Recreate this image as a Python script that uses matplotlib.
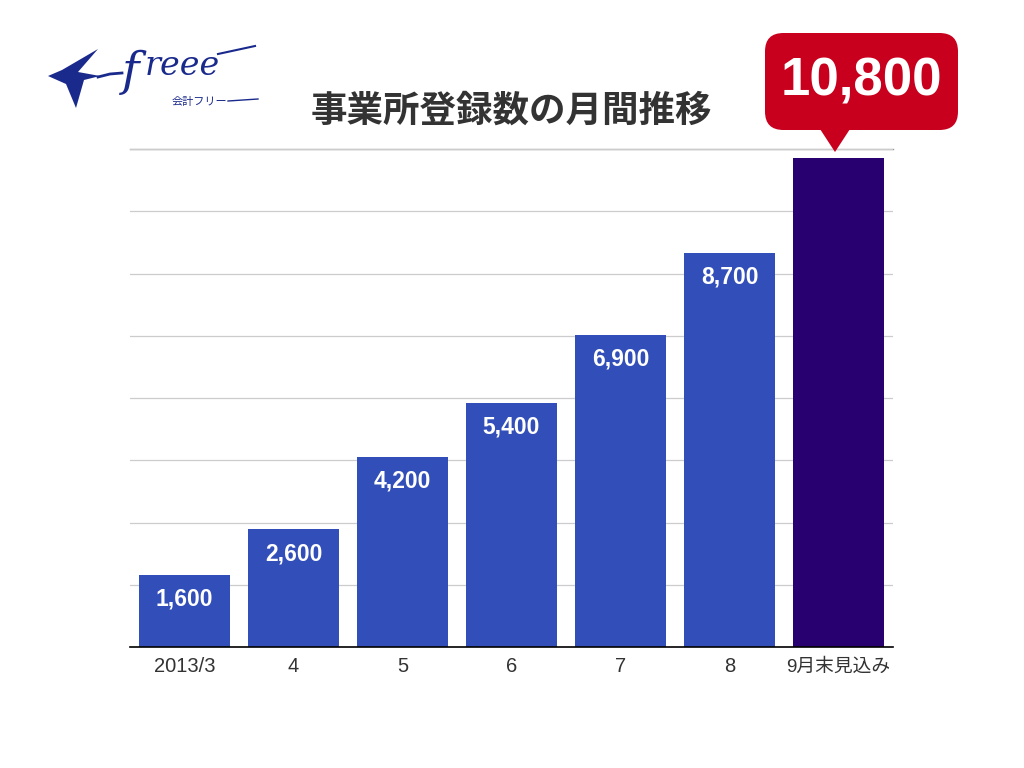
import matplotlib
matplotlib.use("Agg")
import matplotlib.pyplot as plt
from matplotlib.patches import FancyBboxPatch, Polygon

plt.rcParams['font.family'] = ['Liberation Sans', 'Noto Sans CJK JP', 'DejaVu Sans']

categories = ["2013/3", "4", "5", "6", "7", "8", "9月末見込み"]
values = [1600, 2600, 4200, 5400, 6900, 8700, 10800]
labels = ["1,600", "2,600", "4,200", "5,400", "6,900", "8,700", "10,800"]
title = "事業所登録数の月間推移"

bar_color = "#324EB9"
last_color = "#29006F"
red = "#C8001E"

fig = plt.figure(figsize=(10.24, 7.68), dpi=100)
ax = fig.add_axes([130/1024, 1-647/768, 763/1024, (647-149)/768])
x = list(range(len(categories)))
colors = [bar_color]*(len(values)-1) + [last_color]
ax.bar(x, values, width=0.826, color=colors, zorder=3)
ax.set_xlim(-0.5, len(values)-0.5)
ax.set_ylim(0, 11000)
ax.set_yticks([i*1375 for i in range(9)])
ax.set_yticklabels([])
ax.tick_params(axis='y', length=0)
ax.tick_params(axis='x', length=0, pad=18)
ax.set_xticks(x)
ax.set_xticklabels(categories, fontsize=14.5, color="#333333", va="baseline")
ax.get_xticklabels()[-1].set_fontsize(13.5)
for s in ["top", "right", "left"]:
    ax.spines[s].set_visible(False)
ax.spines["bottom"].set_color("black")
ax.spines["bottom"].set_linewidth(1.2)
ax.spines["bottom"].set_zorder(4)
ax.grid(axis='y', color="#CCCCCC", linewidth=0.9, zorder=0)
ax.axhline(11000, color="#999999", linewidth=1.0, zorder=1, clip_on=False)

for xi, v, lab in zip(x[:-1], values[:-1], labels[:-1]):
    ax.annotate(lab, (xi, v), xytext=(0, -17.5), textcoords="offset points",
                ha="center", va="center", color="white", fontsize=16.5, fontweight="bold", zorder=5)

# callout for last bar
px = lambda X: X/1024
py = lambda Y: 1-Y/768
box = FancyBboxPatch((px(765), py(130)), px(958)-px(765), py(33)-py(130),
                     boxstyle="round,pad=0,rounding_size=0.018", transform=fig.transFigure,
                     facecolor=red, edgecolor="none", mutation_aspect=1024/768)
fig.patches.append(box)
tri = Polygon([(px(820), py(129)), (px(850), py(129)), (px(835), py(152))],
              closed=True, transform=fig.transFigure, facecolor=red, edgecolor="none")
fig.patches.append(tri)
fig.text(px(861), py(82), labels[-1], ha="center", va="center", color="white",
         fontsize=38, fontweight="bold")

# title
fig.text(px(511), py(111), title, ha="center", va="center", color="#333333",
         fontsize=26.3, fontweight="bold", family=['Noto Sans CJK JP', 'DejaVu Sans'])

# logo (approximation)
logo = "#1A2A8C"
bird = Polygon([(px(48), py(76)), (px(62), py(70)), (px(98), py(49)), (px(78), py(72)),
                (px(100), py(76)), (px(84), py(80)), (px(76), py(108)), (px(66), py(84))],
               closed=True, transform=fig.transFigure, facecolor=logo, edgecolor="none")
fig.patches.append(bird)
fig.text(px(122), py(72), "f", ha="left", va="center", color=logo, fontsize=34,
         family="DejaVu Serif", style="italic")
fig.text(px(145), py(66), "reee", ha="left", va="center", color=logo, fontsize=24,
         family="DejaVu Serif", style="italic")
verts = [(px(98), py(77)), (px(110), py(74)), (px(122), py(73))]
fig.add_artist(plt.Line2D([v[0] for v in verts], [v[1] for v in verts],
                          transform=fig.transFigure, color=logo, linewidth=2))
fig.add_artist(plt.Line2D([px(218), px(255)], [py(54), py(46)],
                          transform=fig.transFigure, color=logo, linewidth=1.5))
fig.text(px(172), py(102), "会計フリー", ha="left", va="center", color=logo, fontsize=8,
         family=['Noto Sans CJK JP', 'DejaVu Sans'])
fig.add_artist(plt.Line2D([px(228), px(258)], [py(101), py(99)],
                          transform=fig.transFigure, color=logo, linewidth=1))

fig.savefig("out.png", dpi=100)
